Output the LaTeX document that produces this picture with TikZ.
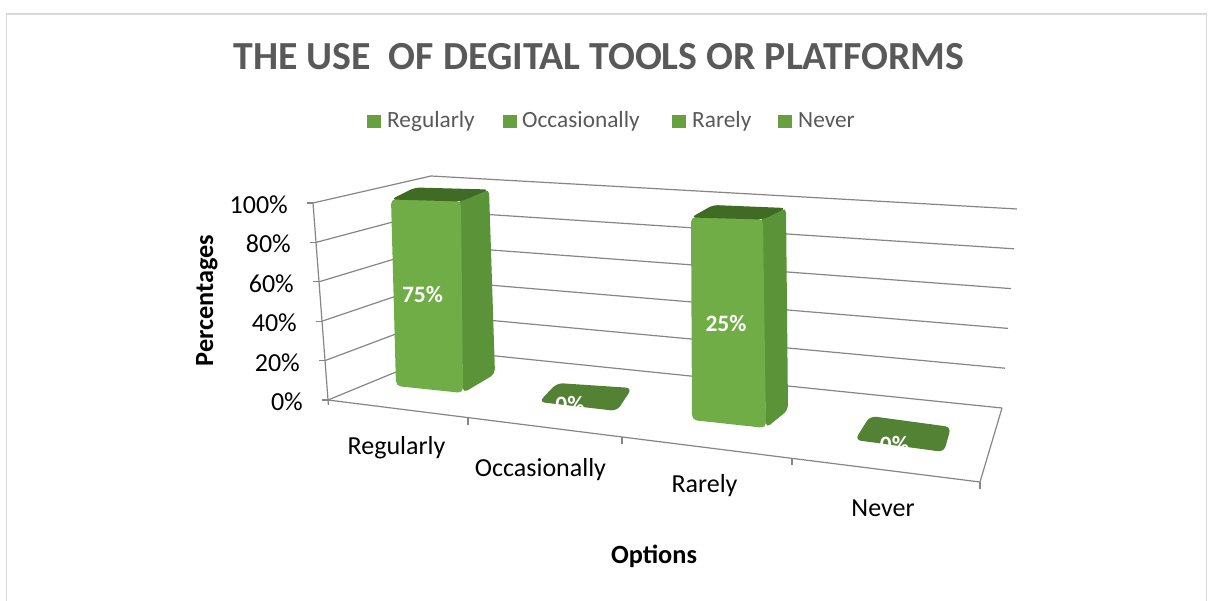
\documentclass[tikz,border=0pt]{standalone}
\usepackage{fontspec}
\setmainfont{Carlito}
\definecolor{gridgray}{HTML}{868686}
\definecolor{framegray}{HTML}{D9D9D9}
\definecolor{titlegray}{HTML}{595959}
\definecolor{barfront}{HTML}{70AD47}
\definecolor{barside}{HTML}{5B9339}
\definecolor{bartop}{HTML}{3F6B25}
\definecolor{tilegreen}{HTML}{548235}
\definecolor{legendgreen}{HTML}{67A03F}
\begin{document}
\begin{tikzpicture}[x=1pt,y=-1pt,
  grid/.style={draw=gridgray,line width=1.2pt},
  axislbl/.style={font=\fontsize{26}{30}\selectfont,text=black,inner sep=0pt},
  axistitle/.style={font=\bfseries\fontsize{26.3}{30}\selectfont,text=black,inner sep=0pt},
  legtext/.style={font=\fontsize{23.3}{28}\selectfont,text=titlegray,inner sep=0pt,anchor=base west},
  legbox/.style={fill=legendgreen},
  datalbl/.style={font=\bfseries\fontsize{23.5}{28}\selectfont,text=white,inner sep=0pt,anchor=base},
  front/.style={fill=barfront,rounded corners=5pt},
  side/.style={fill=barside,rounded corners=5pt},
  top/.style={fill=bartop,rounded corners=5pt},
  tile/.style={fill=tilegreen,rounded corners=6pt}
]
\useasboundingbox (0,0) rectangle (1213,601);
\fill[white] (0,0) rectangle (1213,601);
\draw[framegray,line width=1.8pt] (6.5,14) rectangle (1206.5,640);

% title
\node[anchor=base,font=\bfseries\fontsize{39.8}{46}\selectfont,text=titlegray,inner sep=0pt] (title) at (599,70) {THE USE\ \ OF DEGITAL TOOLS OR PLATFORMS};

% legend
\fill[legbox] (367,115) rectangle (381,128);
\node[legtext] (lg1) at (387,128) {Regularly};
\fill[legbox] (503,115) rectangle (517,128);
\node[legtext] (lg2) at (522,128) {Occasionally};
\fill[legbox] (672,115) rectangle (686,128);
\node[legtext] (lg3) at (692,128) {Rarely};
\fill[legbox] (778,115) rectangle (792,128);
\node[legtext] (lg4) at (798,128) {Never};

% gridlines: left wall and back wall
\foreach \i/\lab in {0/0\%,1/20\%,2/40\%,3/60\%,4/80\%,5/100\%}{
  \pgfmathsetmacro\t{\i/5}
  \pgfmathsetmacro\fx{328-15*\t}\pgfmathsetmacro\fy{400-197*\t}
  \pgfmathsetmacro\bx{447-16*\t}\pgfmathsetmacro\by{351-175*\t}
  \pgfmathsetmacro\rx{1002+15*\t}\pgfmathsetmacro\ry{408-199*\t}
  \coordinate (F\i) at (\fx,\fy);
  \coordinate (B\i) at (\bx,\by);
  \coordinate (R\i) at (\rx,\ry);
  \draw[grid] (F\i) -- (B\i) -- (R\i);
  \draw[grid] (F\i) -- ++(-6,0);
  \node[axislbl,anchor=base east] (yl\i) at (\fx-25,\fy+10.5) {\lab};
}
% vertical axis and floor
\coordinate (FR) at (980,482);
\coordinate (Fbot) at (328.4,405);
\draw[grid] (F5) -- (Fbot);
\draw[grid] (F0) -- (FR) -- (R0);
\draw[grid] (FR) -- ++(0,7);
\foreach \x in {468,622,792}{
  \pgfmathsetmacro\yy{400+(\x-328)/652*82}
  \draw[grid] (\x,\yy) -- ++(0,7);
}

% Regularly bar
\fill[side] (458,201) -- (489,189) -- (495,374) -- (463,393) -- cycle;
\fill[front] (391,199) -- (461,201) -- (463,393) -- (396,386) -- cycle;
\fill[top] (391,199.5) -- (461,201.5) -- (489,189.5) -- (415,187.5) -- cycle;
\node[datalbl] (d1) at (422.5,303) {75\%};

% Occasionally tile
\fill[tile] (539,402) -- (557,383) -- (632,388) -- (617,411) -- cycle;
\begin{scope}
  \clip[rounded corners=6pt] (539,402) -- (557,383) -- (632,388) -- (617,411) -- cycle;
  \node[datalbl] (d2) at (570,413) {0\%};
\end{scope}

% Rarely bar
\fill[side] (760,219) -- (786,207.5) -- (788,410) -- (766,428) -- cycle;
\fill[front] (691,217) -- (763,219) -- (766,428) -- (692,420) -- cycle;
\fill[top] (691,217.5) -- (763,219.5) -- (786,208) -- (713,205) -- cycle;
\node[datalbl] (d3) at (726,331.7) {25\%};

% Never tile
\fill[tile] (855,440) -- (870,416) -- (951,427) -- (944,452) -- cycle;
\begin{scope}
  \clip[rounded corners=6pt] (855,440) -- (870,416) -- (951,427) -- (944,452) -- cycle;
  \node[datalbl] (d4) at (894.5,453) {0\%};
\end{scope}

% category labels
\node[axislbl,anchor=base] (c1) at (396.5,454) {Regularly};
\node[axislbl,anchor=base] (c2) at (540.5,476) {Occasionally};
\node[axislbl,anchor=base] (c3) at (704.5,492) {Rarely};
\node[axislbl,anchor=base] (c4) at (883,516) {Never};

% axis titles
\node[axistitle,anchor=base] (xt) at (654,563) {Options};
\node[axistitle,anchor=base,rotate=90] (yt) at (213,300.5) {Percentages};
\end{tikzpicture}
\end{document}
